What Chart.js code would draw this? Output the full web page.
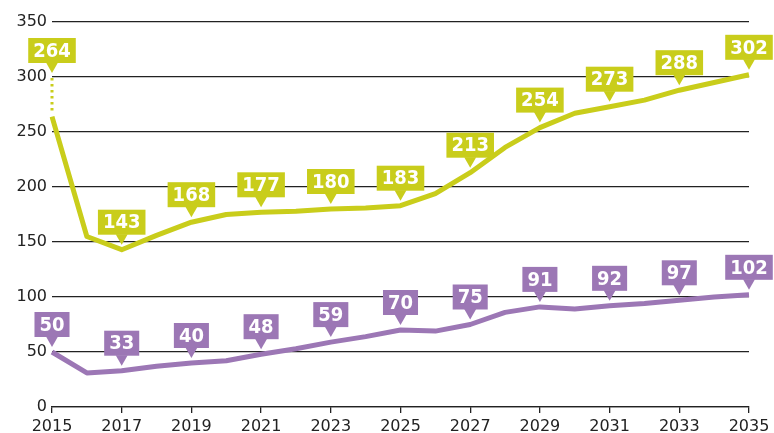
<!DOCTYPE html>
<html>
<head>
<meta charset="utf-8">
<script src="https://cdn.jsdelivr.net/npm/chart.js@4/dist/chart.umd.min.js"></script>
<style>
  html, body { margin: 0; padding: 0; background: #fff; }
</style>
</head>
<body>
<canvas id="myLineChart" width="774" height="433"></canvas>
<script>
// Chart data
var years = ['2015', '2016', '2017', '2018', '2019', '2020', '2021', '2022', '2023', '2024', '2025',
             '2026', '2027', '2028', '2029', '2030', '2031', '2032', '2033', '2034', '2035'];
var upperSeries = [264, 155, 143, 156, 168, 175, 177, 178, 180, 181, 183,
                   194, 213, 236, 254, 267, 273, 279, 288, 295, 302];
var lowerSeries = [50, 31, 33, 37, 40, 42, 48, 53, 59, 64, 70,
                   69, 75, 86, 91, 89, 92, 94, 97, 100, 102];
var yTicks = [0, 50, 100, 150, 200, 250, 300, 350];

var YELLOW = '#c9cd1b';
var PURPLE = '#9c77b5';
var INK = '#222222';

// Draws the value boxes with the little pointer above every second point
var valueBoxes = {
     id: 'valueBoxes',
     afterDatasetsDraw: function (chart) {
          var ctx = chart.ctx;
          var yScale = chart.scales.y;
          chart.data.datasets.forEach(function (ds, di) {
               var meta = chart.getDatasetMeta(di);
               var lift = ds.labelLift || {};
               for (var i = 0; i < ds.data.length; i += 2) {
                    var pt = meta.data[i];
                    var text = String(ds.data[i]);
                    var tipY = pt.y - 5;
                    ctx.save();
                    if (lift[i] !== undefined) {
                         var liftY = yScale.getPixelForValue(lift[i]);
                         ctx.strokeStyle = ds.borderColor;
                         ctx.lineWidth = 3;
                         ctx.setLineDash([2.5, 3.5]);
                         ctx.beginPath();
                         ctx.moveTo(pt.x, pt.y - 6);
                         ctx.lineTo(pt.x, liftY);
                         ctx.stroke();
                         ctx.setLineDash([]);
                         tipY = liftY - 4;
                    }
                    ctx.font = 'bold 20px "DejaVu Sans Condensed", "DejaVu Sans", sans-serif';
                    var w = ctx.measureText(text).width + 10;
                    var h = 25;
                    var boxBottom = tipY - 10;
                    ctx.fillStyle = ds.borderColor;
                    ctx.fillRect(pt.x - w / 2, boxBottom - h, w, h);
                    ctx.beginPath();
                    ctx.moveTo(pt.x - 6, boxBottom - 0.5);
                    ctx.lineTo(pt.x + 6, boxBottom - 0.5);
                    ctx.lineTo(pt.x, tipY);
                    ctx.closePath();
                    ctx.fill();
                    ctx.fillStyle = '#ffffff';
                    ctx.textAlign = 'center';
                    ctx.textBaseline = 'middle';
                    ctx.fillText(text, pt.x, boxBottom - h / 2 + 1);
                    ctx.restore();
               }
          });
     }
};

function createChart() {
     var ctxL = document.getElementById('myLineChart').getContext('2d');
     window.myLineChart = new Chart(ctxL, {
          type: 'line',
          data: {
               labels: years,
               datasets: [{
                    data: upperSeries,
                    borderColor: YELLOW,
                    borderWidth: 5,
                    pointRadius: 0,
                    tension: 0,
                    borderJoinStyle: 'round',
                    labelLift: { 0: 300 }
               }, {
                    data: lowerSeries,
                    borderColor: PURPLE,
                    borderWidth: 5,
                    pointRadius: 0,
                    tension: 0,
                    borderJoinStyle: 'round'
               }]
          },
          plugins: [valueBoxes],
          options: {
               responsive: false,
               animation: false,
               layout: {
                    padding: { top: 22, right: 25, left: 0, bottom: 0 }
               },
               plugins: {
                    legend: { display: false },
                    tooltip: { enabled: false }
               },
               scales: {
                    x: {
                         offset: false,
                         afterFit: function (scale) { scale.height = 26; },
                         grid: {
                              drawOnChartArea: false,
                              tickLength: 6,
                              lineWidth: 1.3,
                              color: function (c) { return c.index % 2 === 0 ? INK : 'rgba(0,0,0,0)'; }
                         },
                         border: { display: true, color: INK, width: 1.3 },
                         ticks: {
                              autoSkip: false,
                              maxRotation: 0,
                              padding: 4,
                              color: INK,
                              font: { family: '"DejaVu Sans", sans-serif', size: 16 },
                              callback: function (v, i) { return i % 2 === 0 ? years[i] : ''; }
                         }
                    },
                    y: {
                         min: 0,
                         max: 350,
                         afterFit: function (scale) { scale.width = 52; },
                         afterBuildTicks: function (scale) {
                              scale.ticks = yTicks.map(function (v) { return { value: v }; });
                         },
                         grid: {
                              drawTicks: false,
                              color: INK,
                              lineWidth: 1.3
                         },
                         border: { display: false },
                         ticks: {
                              padding: 5,
                              color: INK,
                              font: { family: '"DejaVu Sans", sans-serif', size: 16 }
                         }
                    }
               }
          }
     });
}

createChart();
</script>
</body>
</html>
